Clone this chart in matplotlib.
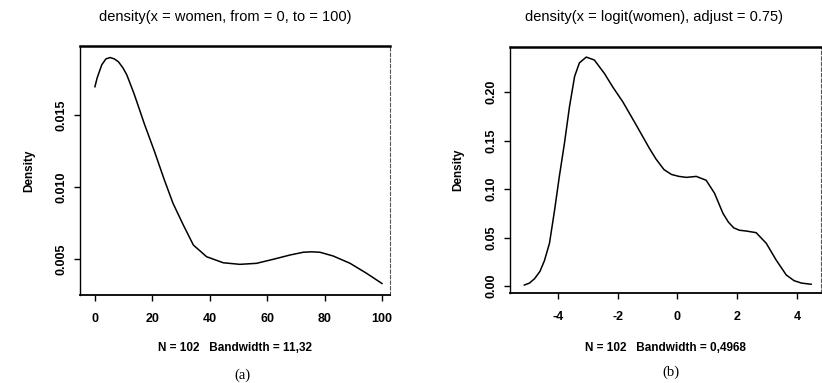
import matplotlib
matplotlib.use("Agg")
import matplotlib.pyplot as plt

# density(x = women, from = 0, to = 100)
women_x = [0, 0.8, 2.4, 3.8, 5.3, 6.8, 8.2, 9.7, 11.1, 13.6, 15.5, 17.2,
           20.7, 24, 27.2, 30.8, 34.3, 38.9, 44.7, 50.5, 56.3, 62.1, 68,
           72.6, 75.5, 78.4, 83, 88.9, 94.7, 100]
women_y = [0.01697, 0.0176, 0.0185, 0.0189, 0.0190, 0.0189, 0.0187, 0.0183,
           0.0178, 0.0165, 0.0154, 0.0144, 0.0125, 0.0106, 0.00887, 0.00736,
           0.00597, 0.00516, 0.00474, 0.00463, 0.00470, 0.00498, 0.00528,
           0.00547, 0.00550, 0.00547, 0.00521, 0.0047, 0.0040, 0.0033]

# density(x = logit(women), adjust = 0.75)
logit_x = [-5.12, -4.95, -4.78, -4.6, -4.45, -4.28, -4.11, -3.95, -3.78, -3.61,
           -3.44, -3.28, -3.05, -2.78, -2.44, -2.16, -1.83, -1.38, -0.94, -0.72,
           -0.45, -0.2, 0.05, 0.3, 0.63, 0.96, 1.24, 1.52, 1.7, 1.88, 2.07,
           2.30, 2.63, 2.97, 3.30, 3.64, 3.9, 4.15, 4.47]
logit_y = [0.001, 0.003, 0.0075, 0.015, 0.026, 0.044, 0.078, 0.113, 0.147,
           0.185, 0.216, 0.230, 0.236, 0.233, 0.219, 0.205, 0.190, 0.166,
           0.142, 0.131, 0.120, 0.115, 0.113, 0.112, 0.113, 0.109, 0.0956,
           0.075, 0.066, 0.060, 0.0575, 0.0567, 0.055, 0.044, 0.0268, 0.0113,
           0.0055, 0.003, 0.0018]

ticks_a_x = [0, 20, 40, 60, 80, 100]
ticks_a_y = [0.005, 0.010, 0.015]
ticks_b_x = [-4, -2, 0, 2, 4]
ticks_b_y = [0.00, 0.05, 0.10, 0.15, 0.20]

plt.rcParams['font.family'] = ['Liberation Sans', 'DejaVu Sans']
plt.rcParams['axes.unicode_minus'] = False

W, H = 822, 383
fig = plt.figure(figsize=(W / 100, H / 100), dpi=100)


def make_axes(box, x, y, xlim, ylim, xticks, yticks, yfmt, xlabel, title, title_x, tag, tag_xy, xlab_y):
    l, t, r, b = box
    ax = fig.add_axes([l / W, 1 - b / H, (r - l) / W, (b - t) / H])
    ax.plot(x, y, color='black', linewidth=1.1)
    ax.set_xlim(*xlim)
    ax.set_ylim(*ylim)
    ax.set_xticks(xticks)
    ax.set_yticks(yticks)
    ax.set_yticklabels([yfmt.format(v) for v in yticks], rotation=90, va='center')
    ax.tick_params(direction='out', length=4, width=1, labelsize=9, color='black')
    ax.tick_params(axis='x', pad=9)
    ax.tick_params(axis='y', pad=5)
    for lab in ax.get_xticklabels() + ax.get_yticklabels():
        lab.set_fontweight('bold')

    ax.spines['top'].set_linewidth(1.8)
    ax.spines['left'].set_linewidth(1.0)
    ax.spines['bottom'].set_linewidth(1.3)
    ax.spines['right'].set_linewidth(0.8)
    ax.spines['right'].set_linestyle((0, (3, 2)))
    ax.spines['right'].set_color('#555555')

    ax.set_xlabel(xlabel, fontsize=8.5, fontweight='bold')
    ax.xaxis.set_label_coords(0.5, xlab_y)
    ax.xaxis.label.set_va('center')
    ax.set_ylabel('Density', fontsize=8.5, fontweight='bold')
    ax.yaxis.set_label_coords(-0.165, 0.5)
    ax.yaxis.label.set_va('center')

    fig.text(title_x / W, 1 - 17 / H, title, ha='center', va='center', fontsize=10.5)
    fig.text(tag_xy[0] / W, 1 - tag_xy[1] / H, tag, ha='center', va='center',
             fontsize=10.5, family='Liberation Serif')
    return ax


make_axes((80, 46, 390, 295), women_x, women_y, (-5.2, 102.8), (0.0025, 0.0198),
          ticks_a_x, ticks_a_y, '{:.3f}', 'N = 102   Bandwidth = 11,32',
          'density(x = women, from = 0, to = 100)', 225, '(a)', (242, 375), -0.213)

make_axes((510, 47, 821, 293), logit_x, logit_y, (-5.6, 4.8), (-0.0072, 0.2464),
          ticks_b_x, ticks_b_y, '{:.2f}', 'N = 102   Bandwidth = 0,4968',
          'density(x = logit(women), adjust = 0.75)', 654, '(b)', (671, 372), -0.224)

fig.savefig('out.png', dpi=100)
